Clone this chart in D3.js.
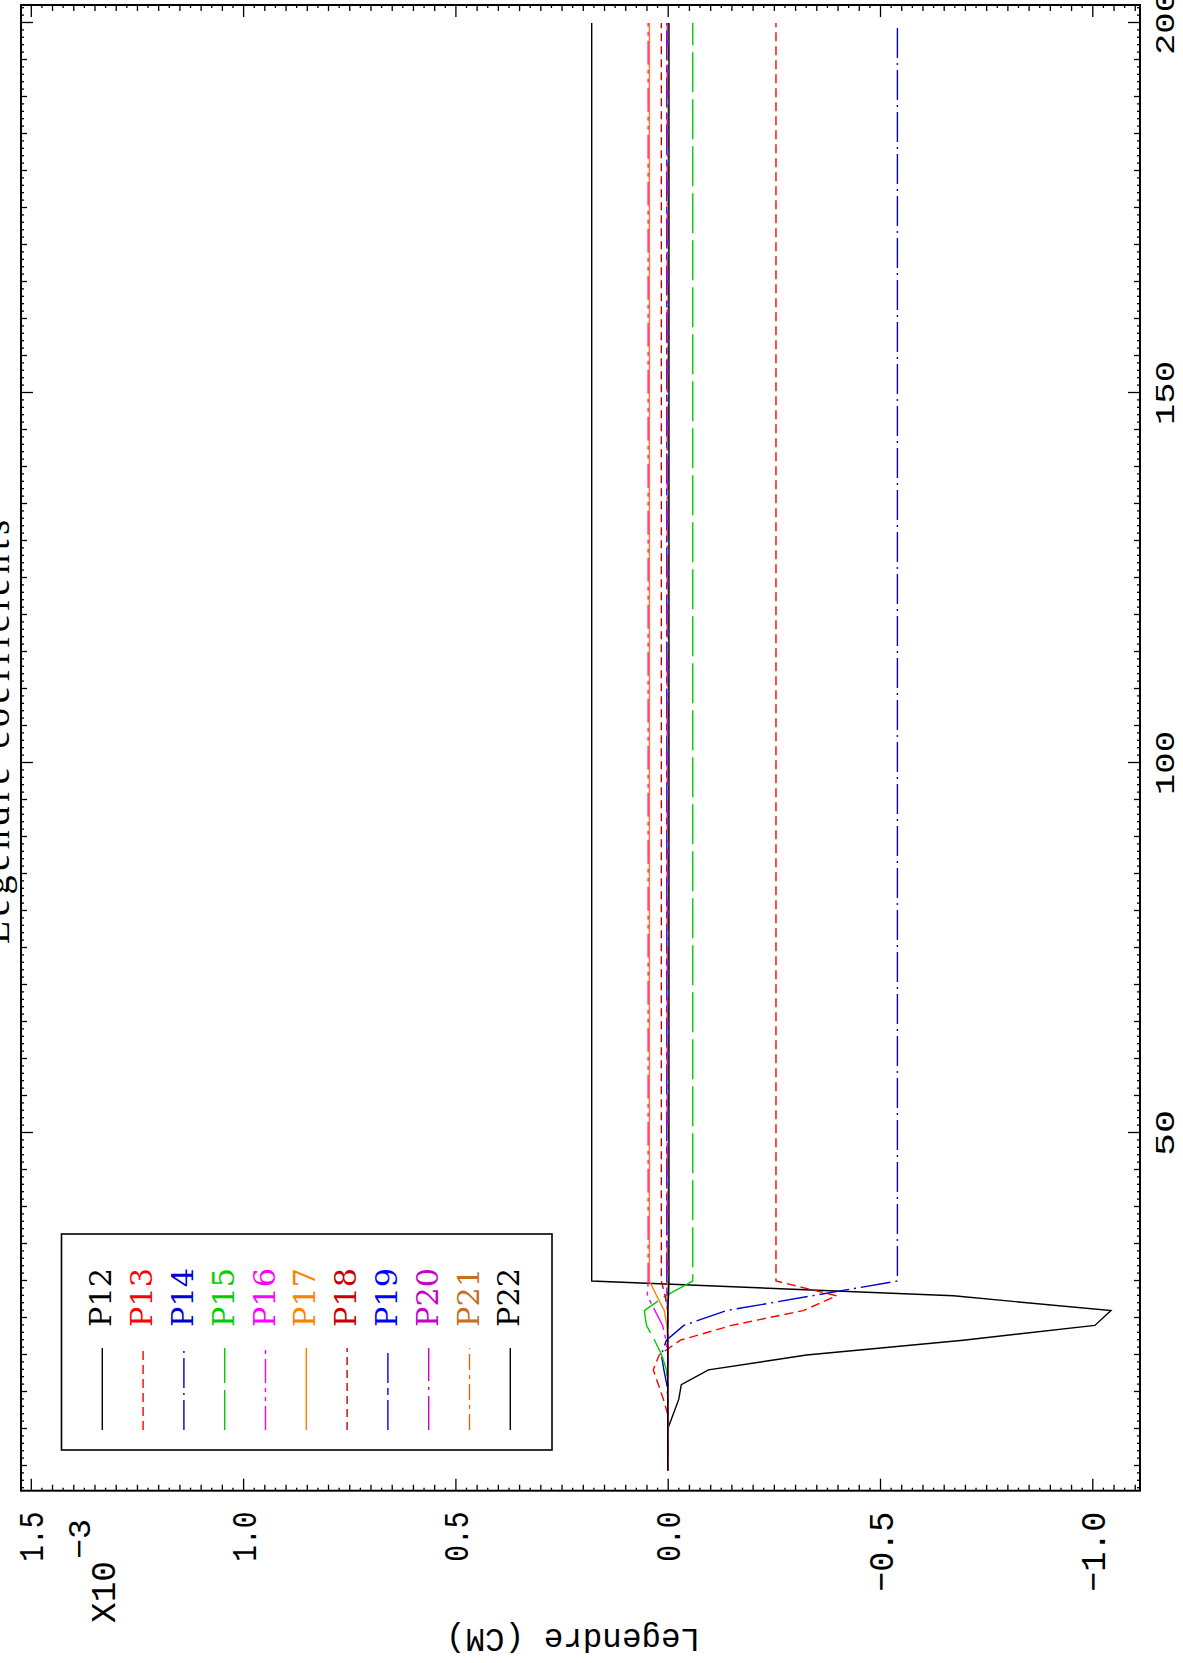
<!DOCTYPE html>
<html><head><meta charset="utf-8">
<script src="https://cdn.jsdelivr.net/npm/d3@7"></script>
<style>html,body{margin:0;padding:0;background:#fff;}svg{display:block;}</style>
</head><body>
<script>
// ---- data (values in units of 1e-3) ----
const xValues = [4.4, 10, 12, 14, 16, 18, 20, 22, 24, 26, 28, 30, 200];
const P12 = [0, 0, -0.013, -0.026, -0.032, -0.096, -0.327, -0.696, -1.006, -1.044, -0.673, 0.179, 0.179];
const P13 = [0, 0, 0, 0.010, 0.022, 0.034, 0.020, -0.030, -0.150, -0.319, -0.398, -0.255, -0.255];
const P14 = [0, 0, 0, 0, 0.002, 0.009, 0.015, 0.003, -0.038, -0.138, -0.340, -0.541, -0.541];
const P15 = [0, 0, 0, 0, 0, 0.003, 0.014, 0.031, 0.050, 0.055, 0.005, -0.059, -0.059];
const P16 = [0, 0, 0, 0, 0, 0, 0, 0.004, 0.012, 0.030, 0.048, 0.046, 0.046];
const P17 = [0, 0, 0, 0, 0, 0, 0, 0, 0.002, 0.008, 0.026, 0.043, 0.043];
const P18 = [0, 0, 0, 0, 0, 0, 0, 0, 0, 0, 0.006, 0.015, 0.015];
const P19 = [0, 0, 0, 0, 0, 0, 0, 0, 0, 0, 0.001, 0.002, 0.002];
const P20 = [0, 0, 0, 0, 0, 0, 0, 0, 0, 0, 0.001, 0.001, 0.001];
const P21 = [0, 0, 0, 0, 0, 0, 0, 0, 0, 0, 0, -0.001, -0.001];
const P22 = [0, 0, 0, 0, 0, 0, 0, 0, 0, 0, -0.002, -0.003, -0.003];
const seriesNames = ["P12","P13","P14","P15","P16","P17","P18","P19","P20","P21","P22"];
const seriesValues = [P12,P13,P14,P15,P16,P17,P18,P19,P20,P21,P22];
const yTickValues = [1.5, 1.0, 0.5, 0.0, -0.5, -1.0];
const yTickLabels = ["1.5", "1.0", "0.5", "0.0", "\u22120.5", "\u22121.0"];
const xTickValues = [50, 100, 150, 200];
const xTickLabels = ["50", "100", "150", "200"];
const titleText = "Legendre coefficients";
const yAxisLabel = "Legendre (CM)";

// ---- styles ----
const seriesColors = ["#000000","#ff0000","#0000d0","#00cc00","#ff00ff","#ff8000","#c80000","#0000ff","#c800c8","#c86e1e","#000000"];
const seriesDash = [null,"9,5","30,5,2,5","40,7","24,5,4,5,4,5",null,"8,5","30,5,7,5","34,6,3,6","16,5,4,5",null];

// ---- layout (landscape frame, rotated onto the page) ----
const PW = 1183, PH = 1663;
const U0 = 172.3, U1 = 1658, V0 = 21, V1 = 1140;   // frame edges

const x = d3.scaleLinear().domain([0, 200]).range([160, 1640]);
const y = d3.scaleLinear().domain([0, -1]).range([667.7, 1092.3]);
const xMin = x.invert(U0), xMax = x.invert(U1);
const yMax = y.invert(V0), yMin = y.invert(V1);

const svg = d3.select("body").append("svg").attr("width", PW).attr("height", PH);
svg.append("rect").attr("width", PW).attr("height", PH).attr("fill", "#fff");
const g = svg.append("g").attr("transform", `translate(0,${PH}) rotate(-90)`);

const mono = "'Liberation Mono', 'DejaVu Sans Mono', monospace";
const serif = "'DejaVu Serif', 'Liberation Serif', serif";
const tserif = "'Liberation Serif', 'DejaVu Serif', serif";

// ---- ticks via d3 axes ----
function ticksBetween(a, b, step) {
  const out = [];
  const s = Math.ceil(Math.min(a, b) / step - 1e-9), e = Math.floor(Math.max(a, b) / step + 1e-9);
  for (let i = s; i <= e; i++) out.push(+(i * step).toFixed(6));
  return out;
}
const xMajor = ticksBetween(xMin, xMax, 50);
const xMid = ticksBetween(xMin, xMax, 5).filter(t => Math.abs(t % 50) > 1e-6);
const xSmall = ticksBetween(xMin, xMax, 1).filter(t => Math.abs(t % 5) > 1e-6);
const yMajor = ticksBetween(yMin, yMax, 0.5);
const yMid = ticksBetween(yMin, yMax, 0.05).filter(t => Math.abs((t * 1000) % 500) > 1e-3);
const yMinor = ticksBetween(yMin, yMax, 0.025).filter(t => Math.abs((t * 1000) % 50) > 1e-3);

function drawAxis(axisFn, scale, values, size, transform) {
  const ax = g.append("g").attr("transform", transform)
    .call(axisFn(scale).tickValues(values).tickSize(size).tickFormat(""));
  ax.select(".domain").remove();
  ax.selectAll("line").attr("stroke", "#000").attr("stroke-width", 1.3);
}
[[xMajor, 12], [xMid, 6], [xSmall, 3]].forEach(([vals, s]) => {
  drawAxis(d3.axisTop, x, vals, s, `translate(0,${V1})`);
  drawAxis(d3.axisBottom, x, vals, s, `translate(0,${V0})`);
});
[[yMajor, 12], [yMid, 6], [yMinor, 3]].forEach(([vals, s]) => {
  drawAxis(d3.axisRight, y, vals, s, `translate(${U0},0)`);
  drawAxis(d3.axisLeft, y, vals, s, `translate(${U1},0)`);
});

// ---- frame ----
g.append("rect").attr("x", U0).attr("y", V0).attr("width", U1 - U0).attr("height", V1 - V0)
  .attr("fill", "none").attr("stroke", "#000").attr("stroke-width", 2);

// ---- series ----
const clip = g.append("clipPath").attr("id", "plotclip");
clip.append("rect").attr("x", U0).attr("y", V0).attr("width", U1 - U0).attr("height", V1 - V0);
const line = d3.line().x(d => x(d[0])).y(d => y(d[1]));
const plot = g.append("g").attr("clip-path", "url(#plotclip)");
seriesValues.forEach((vals, i) => {
  const pts = xValues.map((xv, j) => [xv, vals[j]]);
  plot.append("path").attr("d", line(pts)).attr("fill", "none")
    .attr("stroke", seriesColors[i]).attr("stroke-width", 1.4)
    .attr("stroke-linejoin", "miter")
    .attr("stroke-dasharray", seriesDash[i]);
});

// ---- tick labels ----
yTickValues.forEach((t, i) => {
  const lbl = yTickLabels[i];
  g.append("text").attr("x", U0 - 21).attr("y", y(t)).attr("dy", "0.36em")
    .attr("text-anchor", "end").attr("font-family", mono).attr("font-size", 35)
    .attr("textLength", lbl.length === 3 ? 50 : 80).attr("lengthAdjust", "spacingAndGlyphs")
    .text(lbl);
});
xTickValues.forEach((t, i) => {
  const lbl = xTickLabels[i];
  g.append("text").attr("x", x(t)).attr("y", 1174)
    .attr("text-anchor", "middle").attr("font-family", mono).attr("font-size", 28)
    .attr("textLength", lbl.length === 2 ? 46 : 64).attr("lengthAdjust", "spacingAndGlyphs")
    .text(lbl);
});

// ---- X10^-3 multiplier ----
g.append("text").attr("x", 40).attr("y", 115).attr("font-family", mono).attr("font-size", 35)
  .attr("textLength", 62).attr("lengthAdjust", "spacingAndGlyphs").text("X10");
g.append("text").attr("x", 104).attr("y", 90).attr("font-family", mono).attr("font-size", 32)
  .attr("textLength", 40).attr("lengthAdjust", "spacingAndGlyphs").text("\u22123");

// ---- axis label ----
g.append("text").attr("transform", `translate(34,573) rotate(-90)`)
  .attr("text-anchor", "middle").attr("font-family", mono).attr("font-size", 33)
  .attr("textLength", 254).attr("lengthAdjust", "spacingAndGlyphs").text(yAxisLabel);

// ---- title (partly outside the page) ----
g.append("text").attr("x", 931).attr("y", 9).attr("text-anchor", "middle")
  .attr("font-family", tserif).attr("font-size", 38)
  .attr("textLength", 424).attr("lengthAdjust", "spacing").text(titleText);

// ---- legend ----
const LU0 = 213, LU1 = 429, LV0 = 61.5, LV1 = 552;
g.append("rect").attr("x", LU0).attr("y", LV0).attr("width", LU1 - LU0).attr("height", LV1 - LV0)
  .attr("fill", "#fff").attr("stroke", "#000").attr("stroke-width", 1.6);
seriesNames.forEach((name, i) => {
  const v = 102.3 + 40.8 * i;
  g.append("line").attr("x1", 233).attr("x2", 315).attr("y1", v).attr("y2", v)
    .attr("stroke", seriesColors[i]).attr("stroke-width", 1.4).attr("stroke-dasharray", seriesDash[i]);
  g.append("text").attr("x", 336).attr("y", v + 9).attr("font-family", serif).attr("font-size", 30)
    .attr("fill", seriesColors[i]).attr("textLength", 59).attr("lengthAdjust", "spacingAndGlyphs").text(name);
});
</script>
</body></html>
